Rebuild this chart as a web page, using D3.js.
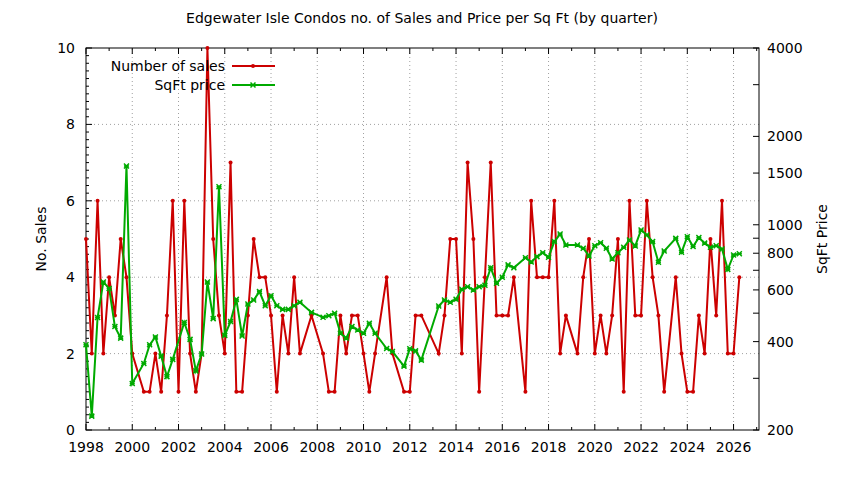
<!DOCTYPE html>
<html><head><meta charset="utf-8">
<script src="https://cdn.jsdelivr.net/npm/d3@7"></script>
<style>body{margin:0;background:#fff}svg{font-family:"DejaVu Sans",sans-serif;font-size:14px}</style>
</head><body><svg id="c" width="844" height="480"></svg>
<script>
const startYear = 1998;
const sales = [5,2,6,2,4,3,5,4,2,null,1,1,2,1,3,6,1,6,2,1,2,10,5,3,2,7,1,1,3,5,4,4,3,1,3,2,4,2,null,3,null,2,1,1,3,2,3,3,2,1,2,null,4,2,null,1,1,3,3,null,null,2,3,5,5,2,7,5,1,4,7,3,3,3,4,null,1,6,4,4,4,6,2,3,null,2,4,5,2,3,2,3,5,1,6,3,3,6,4,3,1,null,4,2,1,1,3,2,5,3,6,2,2,4];
const price = [390,223,483,638,607,450,411,1585,288,null,337,390,415,357,304,348,null,465,407,318,363,638,479,1348,420,468,557,418,537,554,592,530,573,530,515,515,530,545,null,503,null,484,490,500,427,411,450,438,427,462,427,null,379,370,null,330,378,372,346,null,null,529,554,545,558,603,615,600,615,622,714,632,663,730,714,null,772,747,779,803,775,876,930,853,null,853,832,783,848,869,832,765,803,838,887,847,960,923,876,745,814,null,899,806,911,843,905,866,838,848,827,705,789,797];
const xTicks = [1998,2000,2002,2004,2006,2008,2010,2012,2014,2016,2018,2020,2022,2024,2026];
const yTicks = [0,2,4,6,8,10];
const y2Ticks = [200,400,600,800,1000,1500,2000,4000];
const y2Minor = [300,500,700,900,3000];

const svg = d3.select("#c");
const L=86,R=759,T=48,B=430;
const x = d3.scaleLinear().domain([1998,2027.1]).range([L,R]);
const y = d3.scaleLinear().domain([0,10]).range([B,T]);
const y2 = d3.scaleLog().domain([200,4000]).range([B,T]);

const g = svg.append("g").attr("stroke","#a0a0a0").attr("stroke-dasharray","1,3").attr("stroke-width",1);
xTicks.slice(1).forEach(t=>g.append("line").attr("x1",x(t)).attr("x2",x(t)).attr("y1",B).attr("y2",T));
yTicks.slice(1,-1).forEach(t=>g.append("line").attr("x1",L).attr("x2",R).attr("y1",y(t)).attr("y2",y(t)));

const ax = svg.append("g").attr("stroke","#000").attr("stroke-width",1);
ax.append("rect").attr("x",L).attr("y",T).attr("width",R-L).attr("height",B-T).attr("fill","none");
for(let yr=1998; yr<=2027; yr++){const len = yr%2===0?6:3;
  ax.append("line").attr("x1",x(yr)).attr("x2",x(yr)).attr("y1",B).attr("y2",B-len);
  ax.append("line").attr("x1",x(yr)).attr("x2",x(yr)).attr("y1",T).attr("y2",T+len);}
for(let v=0; v<=50; v++){const val=v*0.2; const len = v%10===0?6:3;
  ax.append("line").attr("x1",L).attr("x2",L+len).attr("y1",y(val)).attr("y2",y(val));}
y2Ticks.concat(y2Minor).forEach(t=>ax.append("line").attr("x1",R).attr("x2",R-6).attr("y1",y2(t)).attr("y2",y2(t)));

xTicks.forEach(t=>svg.append("text").attr("x",x(t)).attr("y",B+22).attr("text-anchor","middle").text(t));
yTicks.forEach(t=>svg.append("text").attr("x",L-11).attr("y",y(t)+5).attr("text-anchor","end").text(t));
y2Ticks.forEach(t=>svg.append("text").attr("x",R+8).attr("y",y2(t)+5).text(t));

svg.append("text").attr("x",422).attr("y",23).attr("text-anchor","middle").text("Edgewater Isle Condos no. of Sales and Price per Sq Ft (by quarter)");
svg.append("text").attr("transform","translate(46,239) rotate(-90)").attr("text-anchor","middle").text("No. Sales");
svg.append("text").attr("transform","translate(827,239) rotate(-90)").attr("text-anchor","middle").text("SqFt Price");

const sd = sales.map((v,i)=>({t:startYear+i/4,v})).filter(d=>d.v!==null);
const pd = price.map((v,i)=>({t:startYear+i/4,v})).filter(d=>d.v!==null);
const red="#cc0000", green="#00aa00";
svg.append("path").datum(sd).attr("fill","none").attr("stroke",red).attr("stroke-width",2)
  .attr("d",d3.line().x(d=>x(d.t)).y(d=>y(d.v)));
svg.append("g").selectAll("circle").data(sd).join("circle").attr("cx",d=>x(d.t)).attr("cy",d=>y(d.v)).attr("r",2).attr("fill",red);
svg.append("path").datum(pd).attr("fill","none").attr("stroke",green).attr("stroke-width",2)
  .attr("d",d3.line().x(d=>x(d.t)).y(d=>y2(d.v)));
const cross = (sel,cx,cy)=>sel.append("path").attr("d",`M${cx-2.5},${cy-2.5}L${cx+2.5},${cy+2.5}M${cx-2.5},${cy+2.5}L${cx+2.5},${cy-2.5}M${cx-2.5},${cy}L${cx+2.5},${cy}`).attr("stroke",green).attr("stroke-width",1.5).attr("fill","none");
const pg = svg.append("g");
pd.forEach(d=>cross(pg,x(d.t),y2(d.v)));

svg.append("text").attr("x",225).attr("y",71).attr("text-anchor","end").text("Number of sales");
svg.append("line").attr("x1",232).attr("x2",275).attr("y1",66).attr("y2",66).attr("stroke",red).attr("stroke-width",2);
svg.append("circle").attr("cx",253).attr("cy",66).attr("r",2).attr("fill",red);
svg.append("text").attr("x",225).attr("y",90).attr("text-anchor","end").text("SqFt price");
svg.append("line").attr("x1",232).attr("x2",275).attr("y1",85).attr("y2",85).attr("stroke",green).attr("stroke-width",2);
cross(svg,253,85);
</script></body></html>
